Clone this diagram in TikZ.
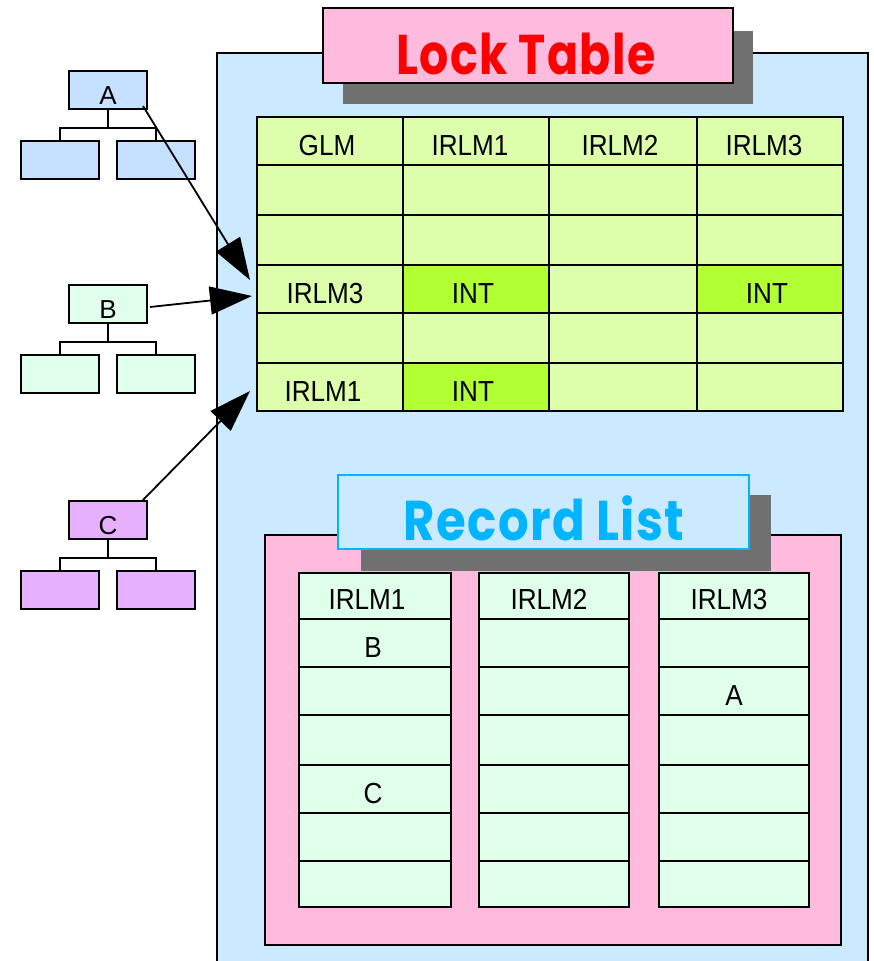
\documentclass[tikz,border=0pt]{standalone}
\usepackage{fontspec}
\setmainfont{Liberation Sans}
\newfontfamily\cellfont{Liberation Sans}[FakeStretch=0.9]
\newfontfamily\titlefont{Poppins}[LetterSpace=3]
\usetikzlibrary{arrows.meta,calc}
\definecolor{bgblue}{RGB}{204,234,255}
\definecolor{cellgreen}{RGB}{221,255,172}
\definecolor{intgreen}{RGB}{178,255,51}
\definecolor{treeA}{RGB}{198,224,255}
\definecolor{treeB}{RGB}{224,255,236}
\definecolor{treeC}{RGB}{230,176,255}
\definecolor{pinkbg}{RGB}{255,187,221}
\definecolor{shadowgray}{RGB}{112,112,112}
\definecolor{titlered}{RGB}{255,0,0}
\definecolor{titlecyan}{RGB}{0,180,255}
\definecolor{reccell}{RGB}{224,255,234}
\tikzset{
  cellstyle/.style={draw=black, line width=2pt, inner sep=0pt, rectangle},
  celltext/.style={anchor=base, inner sep=0pt, font=\cellfont\fontsize{29}{32}\selectfont},
  treebox/.style={draw=black, line width=2pt, inner sep=0pt, minimum width=78pt, minimum height=38pt},
  treetext/.style={anchor=base, inner sep=0pt, font=\fontsize{26}{28}\selectfont},
  treeline/.style={draw=black, line width=2pt},
  bigarrow/.style={draw=black, line width=1.8pt, -{Triangle[length=42pt,width=28pt]}},
  titlefnt/.style={anchor=base, inner sep=0pt, font=\titlefont\bfseries\fontsize{56}{62}\selectfont}
}
\begin{document}
\begin{tikzpicture}[x=1pt,y=-1pt]
\useasboundingbox (0,0) rectangle (874,961);
% main blue area
\path[fill=bgblue, draw=black, line width=2pt] (217,53) rectangle (868,975);
% Lock Table title
\fill[shadowgray] (343,31) rectangle (753,104);
\node[draw=black, line width=2pt, fill=pinkbg, minimum width=410pt, minimum height=75pt, inner sep=0pt] (locktitle) at (528,45.5) {};
\node[titlefnt, text=titlered] (locktxt) at (526,74) {\scalebox{0.82}[1]{Lock Table}};
% Lock table cells
\foreach \ya/\yb [count=\r] in {117/165,165/215,215/265,265/313,313/363,363/411}
  \foreach \xa/\xb [count=\c] in {257/403,403/549,549/697,697/843} {
    \def\cf{cellgreen}
    \ifnum\r\c=42 \def\cf{intgreen}\fi
    \ifnum\r\c=44 \def\cf{intgreen}\fi
    \ifnum\r\c=62 \def\cf{intgreen}\fi
    \node[cellstyle, fill=\cf, minimum width={\xb-\xa}, minimum height={\yb-\ya}] (L\r-\c) at ({(\xa+\xb)/2},{(\ya+\yb)/2}) {};
  }
\node[celltext] (t11) at ([yshift=10.5pt,xshift=-3pt]L1-1.south) {GLM};
\node[celltext] (t12) at ([yshift=10.5pt,xshift=-6pt]L1-2.south) {IRLM1};
\node[celltext] (t13) at ([yshift=10.5pt,xshift=-3pt]L1-3.south) {IRLM2};
\node[celltext] (t14) at ([yshift=10.5pt,xshift=-6pt]L1-4.south) {IRLM3};
\node[celltext] (t41) at ([yshift=10.5pt,xshift=-5pt]L4-1.south) {IRLM3};
\node[celltext] (t42) at ([yshift=10.5pt,xshift=-3pt]L4-2.south) {INT};
\node[celltext] (t44) at ([yshift=10.5pt,xshift=-3pt]L4-4.south) {INT};
\node[celltext] (t61) at ([yshift=10.5pt,xshift=-7pt]L6-1.south) {IRLM1};
\node[celltext] (t62) at ([yshift=10.5pt,xshift=-3pt]L6-2.south) {INT};
% Record list area
\path[fill=pinkbg, draw=black, line width=2pt] (265,535) rectangle (841,945);
\fill[shadowgray] (361,495) rectangle (771,571);
\node[draw=titlecyan, line width=2pt, fill=bgblue, minimum width=411pt, minimum height=74pt, inner sep=0pt] (rectitle) at (543.5,512) {};
\node[titlefnt, text=titlecyan] (rectxt) at (544,540) {\scalebox{0.86}[1]{Record List}};
\foreach \ya/\yb [count=\r] in {573/619,619/667,667/715,715/765,765/813,813/861,861/907}
  \foreach \xa/\xb [count=\c] in {299/451,479/629,659/809} {
    \node[cellstyle, fill=reccell, minimum width={\xb-\xa}, minimum height={\yb-\ya}] (R\r-\c) at ({(\xa+\xb)/2},{(\ya+\yb)/2}) {};
  }
\node[celltext] (r11) at ([yshift=10.5pt,xshift=-8pt]R1-1.south) {IRLM1};
\node[celltext] (r12) at ([yshift=10.5pt,xshift=-5pt]R1-2.south) {IRLM2};
\node[celltext] (r13) at ([yshift=10.5pt,xshift=-5pt]R1-3.south) {IRLM3};
\node[celltext] (r21) at ([yshift=10.5pt,xshift=-2pt]R2-1.south) {B};
\node[celltext] (r33) at ([yshift=10.5pt]R3-3.south) {A};
\node[celltext] (r51) at ([yshift=10.5pt,xshift=-2pt]R5-1.south) {C};
% Trees
\node[treebox, fill=treeA] (A) at (108,90) {};
\node[treetext] (Atxt) at ([yshift=6pt]A.south) {A};
\node[treebox, fill=treeA] (A1) at (60,160) {};
\node[treebox, fill=treeA] (A2) at (156,160) {};
\node[treebox, fill=treeB] (B) at (108,304) {};
\node[treetext] (Btxt) at ([yshift=6pt]B.south) {B};
\node[treebox, fill=treeB] (B1) at (60,374) {};
\node[treebox, fill=treeB] (B2) at (156,374) {};
\node[treebox, fill=treeC] (C) at (108,520) {};
\node[treetext] (Ctxt) at ([yshift=6pt]C.south) {C};
\node[treebox, fill=treeC] (C1) at (60,590) {};
\node[treebox, fill=treeC] (C2) at (156,590) {};
\foreach \p in {A,B,C} {
  \draw[treeline] (\p.south) -- ++(0,18) coordinate (\p j);
  \draw[treeline] (\p1.north) |- (\p j) -| (\p2.north);
}
% Arrows
\coordinate (sA) at (143,106);
\coordinate (tA) at (250,280);
\coordinate (sB) at (150,307);
\coordinate (tB) at (252,296);
\coordinate (sC) at (143,500);
\coordinate (tC) at (250,391);
\draw[bigarrow] (sA) -- (tA);
\draw[bigarrow] (sB) -- (tB);
\draw[bigarrow] (sC) -- (tC);
\end{tikzpicture}
\end{document}
